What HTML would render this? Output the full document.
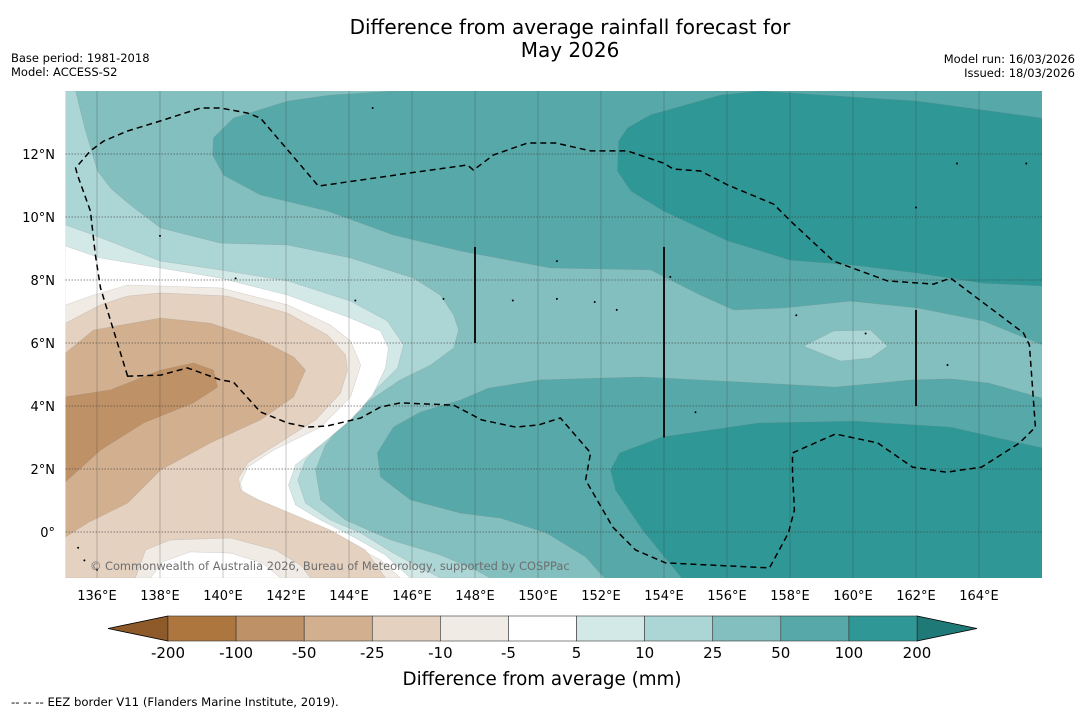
<!DOCTYPE html>
<html><head><meta charset="utf-8"><style>
html,body{margin:0;padding:0;background:#fff;}
svg{display:block;font-family:"DejaVu Sans","Liberation Sans",sans-serif;}
</style></head><body>
<svg id="chart" width="1085" height="713" viewBox="0 0 1085 713" xmlns="http://www.w3.org/2000/svg">
<text x="570" y="34" font-size="20" text-anchor="middle" fill="#000">Difference from average rainfall forecast for</text>
<text x="570" y="57" font-size="20" text-anchor="middle" fill="#000">May 2026</text>
<text x="11" y="62" font-size="11.5" fill="#000">Base period: 1981-2018</text>
<text x="11" y="76" font-size="11.5" fill="#000">Model: ACCESS-S2</text>
<text x="1075" y="63" font-size="11.5" text-anchor="end" fill="#000">Model run: 16/03/2026</text>
<text x="1075" y="77" font-size="11.5" text-anchor="end" fill="#000">Issued: 18/03/2026</text>
<defs><clipPath id="mapclip"><rect x="65.5" y="91" width="976.5" height="487"/></clipPath></defs>
<g id="map" clip-path="url(#mapclip)"></g>
<g id="axes"></g>
<g id="cbar"></g>
<text x="542" y="685" font-size="18.3" text-anchor="middle" fill="#000">Difference from average (mm)</text>
<text x="11" y="706" font-size="11.7" fill="#000">--  --  -- EEZ border V11 (Flanders Marine Institute, 2019).</text>
</svg>
<script>
// axis extents
const lonMin = 135.0, lonMax = 166.0, latMin = -1.46, latMax = 14.0;
const lonTicks = [136,138,140,142,144,146,148,150,152,154,156,158,160,162,164];
const latTicks = [0,2,4,6,8,10,12];
// colour levels
const levels = [-200,-100,-50,-25,-10,-5,5,10,25,50,100,200];
const levelColors = ["#ad763f","#bf9166","#d2b08f","#e4d1c0","#f1ebe5","#ffffff","#d3e9e8","#acd6d5","#83bfbe","#57a9a9","#2f9896"];
const extendLowColor = "#8f5a2a", extendHighColor = "#1f7a77";
// contour regions [lon,lat]
const below25 = [[135,14],[135.32,14],[135.63,12.76],[136.02,11.46],[136.43,10.92],[137.06,10.38],[138.02,9.65],[139.92,9.17],[142.05,9.11],[144.05,8.7],[146.05,8.06],[146.9,7.52],[147.32,6.89],[147.48,6.41],[147.32,5.84],[146.59,5.3],[145.63,4.83],[144.68,4.19],[143.89,3.56],[143.25,2.76],[142.94,1.97],[143.1,1.02],[143.89,0.38],[145.32,-0.25],[146.9,-0.73],[148.02,-1.21],[148.49,-1.46],[135,-1.46]];
const below10 = [[135,9.75],[135.89,9.43],[138.02,8.6],[139.92,8.32],[142.05,7.97],[144.05,7.33],[145.22,6.7],[145.73,5.94],[145.54,5.21],[144.9,4.57],[144.37,3.87],[143.41,3.08],[142.62,2.29],[142.37,1.65],[142.62,0.92],[143.41,0.38],[144.37,-0.03],[145.41,-0.67],[146.27,-1.14],[146.9,-1.46],[135,-1.46]];
const below5 = [[135,9.08],[136.11,8.7],[138.02,8.38],[139.92,8.06],[142.05,7.52],[144.05,6.79],[145,6.38],[145.25,5.84],[145.16,5.21],[144.75,4.35],[144.05,3.56],[143.1,2.76],[142.3,2.13],[142.08,1.49],[142.3,0.86],[143.1,0.38],[144.21,-0.19],[145.16,-0.73],[145.95,-1.46],[135,-1.46]];
const belowM5 = [[135,7.21],[135.89,7.52],[136.97,7.84],[139.92,7.75],[142.05,7.21],[143.41,6.57],[144.05,6.06],[144.37,5.3],[144.05,4.29],[143.1,3.33],[141.6,2.6],[140.78,2.06],[140.56,1.56],[140.62,1.24],[141.19,0.92],[142.24,0.48],[143.63,-0.16],[145,-0.89],[145.63,-1.46],[135,-1.46]];
const belowM10 = [[135,6.63],[136.11,7.21],[136.97,7.49],[138.02,7.59],[140.14,7.49],[142.05,6.95],[143.32,6.25],[143.89,5.62],[143.95,5.14],[143.73,4.41],[142.94,3.56],[141.67,2.76],[140.81,2.22],[140.49,1.71],[140.56,1.33],[141.13,1.02],[142.14,0.6],[143.41,0.06],[144.52,-0.57],[145.16,-1.46],[135,-1.46]];
const ringM10 = [[137.22,-1.46],[137.54,-0.57],[138.33,-0.25],[140.24,-0.19],[141.67,-0.57],[142.46,-1.05],[142.78,-1.46]];
const ringM5 = [[137.7,-1.46],[138.08,-0.95],[138.97,-0.63],[140.24,-0.67],[141.25,-0.98],[141.83,-1.46]];
const belowM25 = [[135,5.68],[135.89,6.41],[138.02,6.79],[139.6,6.63],[141.19,6.1],[142.24,5.56],[142.62,5.14],[142.24,4.29],[141.19,3.56],[139.6,2.83],[138.02,1.97],[136.97,0.92],[135.7,0.29],[135,-0.16]];
const belowM50 = [[135,4.29],[136.43,4.51],[138.02,5.14],[139.06,5.37],[139.7,5.14],[139.83,4.6],[139.06,4.1],[137.48,3.46],[136.11,2.6],[135,1.59]];
const above50North = [[145.41,14],[143.41,13.87],[142.05,13.68],[140.33,13.14],[139.7,12.51],[139.67,11.97],[140.02,11.33],[141.19,10.7],[143.32,10.19],[145.41,9.43],[147.54,8.92],[150.4,8.38],[153.57,8.32],[155.16,7.52],[156.21,7.05],[157.79,7.11],[159.92,7.33],[162.05,7.11],[164.14,6.7],[166.02,5.94],[166.02,14]];
const above50South = [[166,4.25],[164.3,4.73],[163.1,4.86],[161.89,4.83],[159.44,4.6],[157,4.73],[153.32,4.92],[150.08,4.83],[148.43,4.57],[147.54,4.19],[146.27,3.81],[145.41,3.33],[144.9,2.51],[145,1.75],[145.95,1.02],[147.54,0.6],[148.81,0.44],[150.27,-0.03],[151.51,-0.79],[152.11,-1.46],[166,-1.46]];
const above100North = [[157.06,14],[162.05,13.68],[166,13.14],[166,7.81],[164.14,7.9],[162.05,8.22],[159.92,8.48],[158.02,8.63],[156.02,9.24],[153.98,10.19],[152.94,10.83],[152.52,11.46],[152.56,12.41],[152.84,12.83],[153.57,13.24],[155.79,13.87]];
const above100South = [[152.3,1.97],[152.59,2.51],[153.95,3.02],[157,3.46],[160.05,3.52],[163.1,3.33],[166,2.67],[166,-1.46],[154.56,-1.46],[153.32,0.06],[152.46,1.33]];
const below25Blob = [[158.43,5.9],[159.38,6.38],[160.56,6.41],[161.1,5.9],[160.56,5.52],[159.6,5.43]];
const eezBorder = [[136.97,4.95],[136.11,7.75],[135.95,8.79],[135.79,10.19],[135.38,11.33],[135.32,11.56],[135.79,12.1],[136.21,12.41],[136.97,12.73],[138.02,13.05],[139.29,13.46],[139.92,13.46],[140.78,13.3],[141.19,13.14],[142.05,12.13],[143.03,10.98],[145.95,11.4],[147.76,11.65],[147.95,11.49],[148.59,11.97],[149.67,12.35],[150.56,12.35],[151.67,12.1],[152.84,12.1],[153.98,11.71],[154.3,11.52],[155.16,11.46],[156.02,11.02],[157.48,10.41],[158.02,9.87],[159.38,8.6],[161.1,7.97],[162.56,7.87],[163.1,8.06],[165.41,6.32],[165.6,5.94],[165.79,3.33],[165.29,2.83],[164.08,2.06],[162.97,1.9],[161.89,2.06],[160.78,2.83],[159.44,3.11],[158.08,2.51],[158.08,1.87],[158.14,0.7],[157.95,-0.03],[157.35,-1.14],[154.05,-0.98],[153.1,-0.57],[152.37,0.16],[151.51,1.65],[151.67,2.51],[150.71,3.62],[150.02,3.4],[149.29,3.33],[148.21,3.56],[147.32,4.03],[145.63,4.1],[145,3.97],[144.37,3.62],[143.32,3.37],[142.68,3.33],[142.05,3.46],[141.19,3.81],[140.33,4.76],[139.92,4.83],[138.87,5.21],[138.02,4.98],[137.06,4.95]];
const eezSegments = [[[148,9.05],[148,6]],[[154,9.05],[154,3]],[[162,7.05],[162,4]]];
const islands = [[144.75,13.46],[138.0,9.4],[140.4,8.05],[144.2,7.35],[147.0,7.4],[149.2,7.35],[150.6,7.4],[151.8,7.3],[152.5,7.05],[154.2,8.1],[158.2,6.88],[160.4,6.3],[163.0,5.3],[163.3,11.7],[165.5,11.7],[155.0,3.8],[150.6,8.6],[162.0,10.3],[135.4,-0.5],[135.6,-0.9],[136.0,-1.2]];

const X0=65.5, X1=1042, Y0=91, Y1=578;
function xs(lon){return X0+(lon-lonMin)/(lonMax-lonMin)*(X1-X0);}
function ys(lat){return Y1-(lat-latMin)/(latMax-latMin)*(Y1-Y0);}
const NS="http://www.w3.org/2000/svg";
function mk(tag,attrs,parent){const e=document.createElementNS(NS,tag);for(const k in attrs)e.setAttribute(k,attrs[k]);parent.appendChild(e);return e;}
function pts(arr){return arr.map(p=>xs(p[0]).toFixed(1)+","+ys(p[1]).toFixed(1)).join(" ");}
const map=document.getElementById("map");
const bg=mk("rect",{x:X0,y:Y0,width:X1-X0,height:Y1-Y0,fill:levelColors[8]},map);


const layers=[
 [below25,levelColors[7],'band-10-to-25'],[below10,levelColors[6],'band-5-to-10'],[below5,levelColors[5],'band-minus5-to-5'],
 [belowM5,levelColors[4],'band-minus10-to-minus5'],[belowM10,levelColors[3],'band-minus25-to-minus10'],
 [ringM10,levelColors[4],'band-minus10-to-minus5-south'],[ringM5,levelColors[5],'band-minus5-to-5-south'],
 [belowM25,levelColors[2],'band-minus50-to-minus25'],[belowM50,levelColors[1],'band-minus100-to-minus50'],
 [above50North,levelColors[9],'band-50-to-100-north'],[above50South,levelColors[9],'band-50-to-100-south'],
 [above100North,levelColors[10],'band-100-to-200-north'],[above100South,levelColors[10],'band-100-to-200-south'],
 [below25Blob,levelColors[7],'band-10-to-25-blob']];
layers.forEach(L=>{
 const p=mk("polygon",{points:pts(L[0]),fill:L[1],stroke:"rgba(120,120,120,0.25)","stroke-width":0.6},map);
 
 
});
// grid
lonTicks.forEach(l=>{const g=mk("line",{x1:xs(l),x2:xs(l),y1:Y0,y2:Y1,stroke:"rgba(60,60,60,0.4)","stroke-width":0.7},map);
 
 });
latTicks.forEach(l=>{const g=mk("line",{x1:X0,x2:X1,y1:ys(l),y2:ys(l),stroke:"rgba(60,60,60,0.6)","stroke-width":0.9,"stroke-dasharray":"1.5,1.5"},map);
 
 });
// islands
islands.forEach(p=>{const c=mk("circle",{cx:xs(p[0]),cy:ys(p[1]),r:1,fill:"#000",stroke:"none"},map);
 
 });
// EEZ
const eez=mk("polygon",{points:pts(eezBorder),fill:"none",stroke:"#000","stroke-width":1.5,"stroke-dasharray":"6,4"},map);


eezSegments.forEach(s=>{const l=mk("line",{x1:xs(s[0][0]),y1:ys(s[0][1]),x2:xs(s[1][0]),y2:ys(s[1][1]),stroke:"#111","stroke-width":2},map);
 
 });
const cp=mk("text",{x:90,y:570,"font-size":11.4,fill:"#6e6e6e"},map);
cp.textContent="© Commonwealth of Australia 2026, Bureau of Meteorology, supported by COSPPac";


// axes labels
const axes=document.getElementById("axes");
lonTicks.forEach(l=>{const t=mk("text",{x:xs(l),y:600,"font-size":13,"text-anchor":"middle",fill:"#000"},axes);t.textContent=l+"°E";
 
 });
latTicks.forEach(l=>{const t=mk("text",{x:55,y:ys(l)+5,"font-size":13,"text-anchor":"end",fill:"#000"},axes);t.textContent=l===0?"0°":l+"°N";
 
 });
// colorbar
const cb=document.getElementById("cbar");
const cbX0=168, cbX1=917, cbY0=616, cbY1=641, nSeg=levelColors.length;
const segW=(cbX1-cbX0)/nSeg;
function cbx(i){return cbX0+i*segW;}
const lt=mk("polygon",{points:`${cbX0},${cbY0} ${cbX0},${cbY1} 108,${(cbY0+cbY1)/2}`,fill:extendLowColor,stroke:"#000","stroke-width":0.8},cb);


const rt=mk("polygon",{points:`${cbX1},${cbY0} ${cbX1},${cbY1} 977,${(cbY0+cbY1)/2}`,fill:extendHighColor,stroke:"#000","stroke-width":0.8},cb);


levelColors.forEach((c,i)=>{const r=mk("rect",{x:cbx(i),y:cbY0,width:segW,height:cbY1-cbY0,fill:c,stroke:"#333","stroke-width":0.6},cb);
 
 });
levels.forEach((v,i)=>{const t=mk("text",{x:cbx(i),y:658,"font-size":15,"text-anchor":"middle",fill:"#000"},cb);t.textContent=v;
 
 });
</script>
</body></html>
